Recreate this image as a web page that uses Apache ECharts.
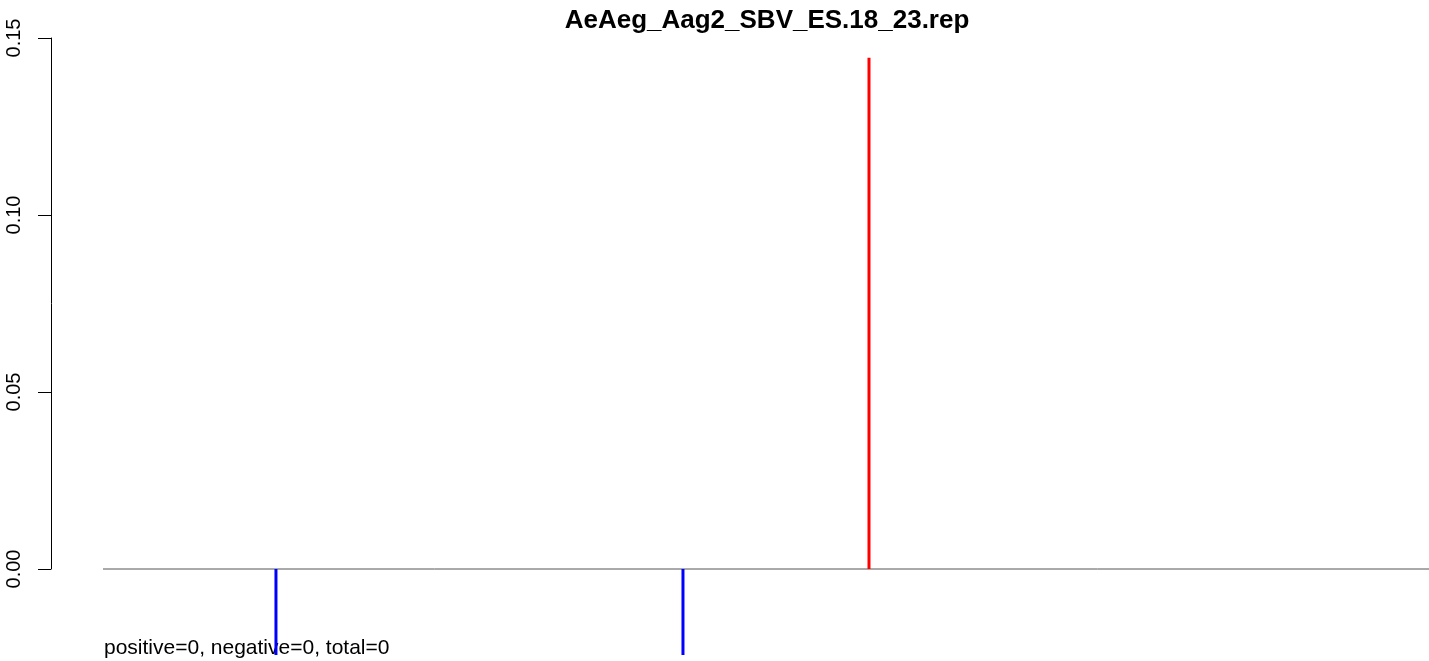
<!DOCTYPE html>
<html>
<head>
<meta charset="utf-8">
<script src="https://cdn.jsdelivr.net/npm/echarts@6/dist/echarts.min.js"></script>
<style>
  html, body { margin: 0; padding: 0; background: #fff; }
  #main { width: 1429px; height: 661px; }
</style>
</head>
<body>
<div id="main"></div>
<script>
// (positions along an assumed 8832 nt SBV genome)
var titleText = 'AeAeg_Aag2_SBV_ES.18_23.rep'
var genomeLen = 8832
var posSites = [5102]
var posValues = [0.1444]
var negSites = [1152, 3863]
var negValues = [-0.0243, -0.0243]
var yTicks = [0, 0.05, 0.1, 0.15]
var footText = 'positive=0, negative=0, total=0'

var chart = echarts.init(document.getElementById('main'), null, { renderer: 'canvas' })

function pairs(xs, ys) {
  return xs.map(function (x, i) { return [x, ys[i]] })
}

var font = 'Liberation Sans, Arial, Helvetica, sans-serif'

var option = {
  animation: false,
  backgroundColor: '#ffffff',
  grid: [
    // grid 0: just the visible y axis, 0..0.15
    { left: 51, top: 38, width: 10, height: 531 },
    // grid 1: the data, same y scale but reaching below 0
    { left: 103, right: 0, top: 38, height: 619.5 }
  ],
  xAxis: [
    { gridIndex: 0, type: 'value', show: false, min: 0, max: 1 },
    { gridIndex: 1, type: 'value', show: false, min: 0, max: genomeLen }
  ],
  yAxis: [
    {
      gridIndex: 0, type: 'value', min: yTicks[0], max: yTicks[yTicks.length - 1], interval: 0.05,
      axisLine: { show: true, lineStyle: { color: '#000', width: 1 } },
      axisTick: { show: true, length: 13, lineStyle: { color: '#000', width: 1 } },
      splitLine: { show: false },
      axisLabel: {
        rotate: 90, margin: 27, color: '#000', fontSize: 20, fontFamily: font,
        formatter: function (v) { return v.toFixed(2) }
      }
    },
    { gridIndex: 1, type: 'value', show: false, min: -0.025, max: 0.15 }
  ],
  series: [
    {
      type: 'line', xAxisIndex: 1, yAxisIndex: 1, symbol: 'none',
      data: [[0, 0], [genomeLen, 0]],
      lineStyle: { color: '#555555', width: 1 }, z: 1
    },
    {
      type: 'bar', xAxisIndex: 1, yAxisIndex: 1, barWidth: 3,
      data: pairs(posSites, posValues), itemStyle: { color: '#ff0000' }, z: 2
    },
    {
      type: 'bar', xAxisIndex: 1, yAxisIndex: 1, barWidth: 3, barGap: '-100%',
      data: pairs(negSites, negValues), itemStyle: { color: '#0000ff' }, z: 2
    }
  ],
  graphic: [
    {
      type: 'text', x: 767, y: 8,
      style: { text: titleText, align: 'center', verticalAlign: 'top', font: 'bold 26px ' + font, fill: '#000' }
    },
    {
      type: 'text', x: 104, y: 638,
      style: { text: footText, verticalAlign: 'top', font: '21px ' + font, fill: '#000' }
    }
  ]
}

chart.setOption(option)
</script>
</body>
</html>
